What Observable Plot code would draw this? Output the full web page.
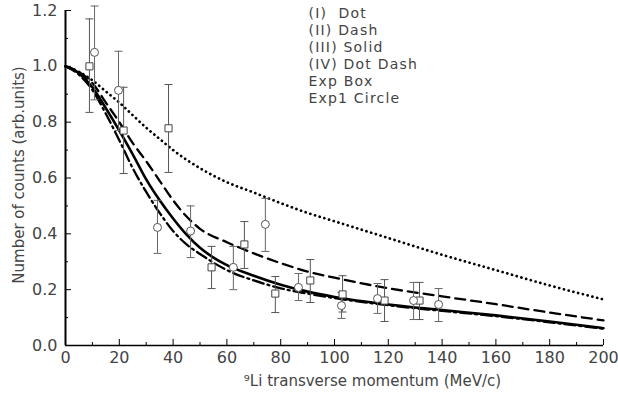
<!DOCTYPE html>
<html><head><meta charset="utf-8">
<script src="https://cdn.jsdelivr.net/npm/d3@7"></script>
<script src="https://cdn.jsdelivr.net/npm/@observablehq/plot@0.6"></script>
<style>body{margin:0;background:#fff}</style>
</head><body><div id="chart"></div>
<script>
// Theory curves
const dotX = [0,5,10,15,20,25,30,35,40,50,60,70,80,90,100,120,140,160,180,200];
const dotY = [1.0,0.98,0.95,0.91,0.87,0.825,0.78,0.74,0.70,0.635,0.585,0.548,0.51,0.475,0.445,0.385,0.325,0.27,0.215,0.165];
const dashX = [0,5,10,15,20,25,30,35,40,45,50,60,70,80,90,100,120,140,160,180,200];
const dashY = [1.0,0.98,0.94,0.87,0.80,0.725,0.66,0.59,0.52,0.462,0.418,0.37,0.33,0.295,0.265,0.243,0.205,0.176,0.148,0.118,0.09];
const solidX = [0,5,10,15,20,25,30,35,40,45,50,55,60,70,80,90,100,120,140,160,180,200];
const solidY = [1.0,0.975,0.925,0.85,0.77,0.685,0.595,0.52,0.455,0.397,0.35,0.315,0.288,0.25,0.218,0.193,0.174,0.147,0.127,0.108,0.086,0.062];
const ddX = [0,5,10,15,20,25,30,35,40,45,50,60,70,80,90,100,120,140,160,180,200];
const ddY = [1.0,0.97,0.915,0.83,0.735,0.635,0.55,0.475,0.41,0.362,0.328,0.27,0.233,0.205,0.186,0.17,0.144,0.124,0.105,0.083,0.06];

// Experimental data: Exp (boxes)
const boxX  = [8.9,21.6,38.3,54.3,66.5,78,91,103,118.6,131.6];
const boxY  = [1.0,0.77,0.778,0.28,0.362,0.186,0.233,0.183,0.161,0.161];
const boxLo = [0.835,0.616,0.62,0.204,0.276,0.118,0.154,0.12,0.086,0.093];
const boxHi = [1.17,0.925,0.935,0.355,0.444,0.247,0.308,0.25,0.236,0.226];
// Exp1 (circles)
const circX  = [10.8,19.7,34.2,46.5,62.4,74.3,86.6,102.6,116,129.4,138.7];
const circY  = [1.05,0.914,0.423,0.41,0.28,0.434,0.208,0.143,0.168,0.161,0.147];
const circLo = [0.88,0.77,0.33,0.315,0.2,0.337,0.161,0.097,0.115,0.093,0.086];
const circHi = [1.216,1.054,0.52,0.50,0.355,0.527,0.258,0.19,0.222,0.226,0.204];

const xMajor = [0,20,40,60,80,100,120,140,160,180,200];
const xMinor = [10,30,50,70,90,110,130,150,170,190];
const yMajor = [0,0.2,0.4,0.6,0.8,1.0,1.2];
const yMinor = [0.1,0.3,0.5,0.7,0.9,1.1];
const legendLabels = ["(I)  Dot","(II) Dash","(III) Solid","(IV) Dot Dash","Exp Box","Exp1 Circle"];
const xLabel = "\u2079Li transverse momentum (MeV/c)";
const yLabel = "Number of counts (arb.units)";

const curve = (xs, ys) => xs.map((x, i) => ({x, y: ys[i]}));
const pts = (xs, ys, lo, hi) => xs.map((x, i) => ({x, y: ys[i], lo: lo[i], hi: hi[i]}));
const boxes = pts(boxX, boxY, boxLo, boxHi);
const circles = pts(circX, circY, circLo, circHi);
const cap = {draw(ctx, size) { const w = Math.sqrt(size / Math.PI); ctx.moveTo(-w, 0); ctx.lineTo(w, 0); }};

const W = 618, H = 396, mL = 65, mR = 15, mT = 10, mB = 51;
const pw = W - mL - mR, ph = H - mT - mB;
const font = "DejaVu Sans";
const txt = "#444";

const chart = Plot.plot({
  width: W, height: H,
  marginLeft: mL, marginRight: mR, marginTop: mT, marginBottom: mB,
  style: {fontFamily: font, background: "#fff", color: txt},
  x: {domain: [0, 200]},
  y: {domain: [0, 1.2]},
  marks: [
    Plot.axisY({ticks: yMajor, tickSize: 0, tickPadding: 8, tickFormat: d3.format(".1f"), label: null, fontSize: 16, fill: txt}),
    Plot.axisX({ticks: xMajor, tickSize: 0, tickPadding: 6, tickFormat: d3.format("d"), label: null, fontSize: 16, fill: txt}),
    // inward ticks
    Plot.tickY(yMajor, {y: d => d, insetRight: pw - 6, stroke: "#000", strokeWidth: 1}),
    Plot.tickY(yMinor, {y: d => d, insetRight: pw - 3, stroke: "#000", strokeWidth: 1}),
    Plot.tickX(xMajor, {x: d => d, insetTop: ph - 6, stroke: "#000", strokeWidth: 1}),
    Plot.tickX(xMinor, {x: d => d, insetTop: ph - 3, stroke: "#000", strokeWidth: 1}),
    Plot.ruleX([0], {stroke: "#000", strokeWidth: 2}),
    Plot.ruleY([0], {stroke: "#000", strokeWidth: 1.5}),
    // curves
    Plot.line(curve(dotX, dotY), {x: "x", y: "y", curve: "monotone-x", stroke: "#000", strokeWidth: 2.7, strokeDasharray: "0.1,4.8", strokeLinecap: "round"}),
    Plot.line(curve(dashX, dashY), {x: "x", y: "y", curve: "monotone-x", stroke: "#000", strokeWidth: 2.3, strokeDasharray: "10,6"}),
    Plot.line(curve(ddX, ddY), {x: "x", y: "y", curve: "monotone-x", stroke: "#000", strokeWidth: 2.3, strokeDasharray: "11,4,2,4"}),
    Plot.line(curve(solidX, solidY), {x: "x", y: "y", curve: "monotone-x", stroke: "#000", strokeWidth: 2.6}),
    // error bars
    Plot.ruleX(boxes, {x: "x", y1: "lo", y2: "hi", stroke: "#555", strokeWidth: 1}),
    Plot.dot(boxes, {x: "x", y: "lo", symbol: cap, r: 4, stroke: "#555", strokeWidth: 1}),
    Plot.dot(boxes, {x: "x", y: "hi", symbol: cap, r: 4, stroke: "#555", strokeWidth: 1}),
    Plot.ruleX(circles, {x: "x", y1: "lo", y2: "hi", stroke: "#666", strokeWidth: 1}),
    Plot.dot(circles, {x: "x", y: "lo", symbol: cap, r: 4, stroke: "#666", strokeWidth: 1}),
    Plot.dot(circles, {x: "x", y: "hi", symbol: cap, r: 4, stroke: "#666", strokeWidth: 1}),
    Plot.dot(boxes, {x: "x", y: "y", symbol: "square", r: 4, stroke: "#444", fill: "#fff", strokeWidth: 1}),
    Plot.dot(circles, {x: "x", y: "y", symbol: "circle", r: 4, stroke: "#555", fill: "#fff", strokeWidth: 1}),
    // legend
    ...legendLabels.map((label, i) => Plot.text([label], {frameAnchor: "top-left", dx: 243, dy: -2 + 17 * i, textAnchor: "start", lineAnchor: "top", fontSize: 14, fill: txt})),
    // axis labels
    Plot.text([xLabel], {frameAnchor: "bottom", dx: 38, dy: 30, lineAnchor: "top", fontSize: 15, fill: txt}),
    Plot.text([yLabel], {frameAnchor: "left", dx: -46, dy: -3, rotate: -90, textAnchor: "middle", fontSize: 15, fill: txt})
  ]
});
// widen the legend lettering like the original's stroked font
d3.select(chart).selectAll('g[aria-label="text"]').filter((d, i) => i < legendLabels.length).style("letter-spacing", "1.2px");
document.getElementById("chart").appendChild(chart);
</script>
</body></html>
